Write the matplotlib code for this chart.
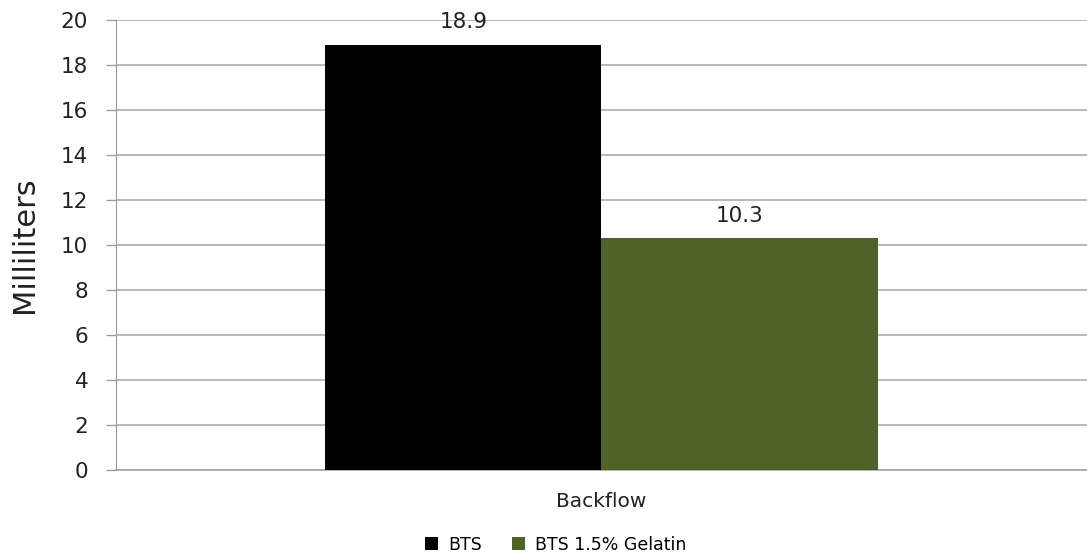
import matplotlib.pyplot as plt
from matplotlib.patches import Patch

categories = ["Backflow"]
series_names = ["BTS", "BTS 1.5% Gelatin"]
bts = [18.9]
bts_gelatin = [10.3]
colors = ["#000000", "#4F6228"]

plt.rcParams['font.family'] = ['DejaVu Sans']

fig = plt.figure(figsize=(10.87, 5.56), dpi=100)
ax = fig.add_axes([0.1067, 0.1547, 0.8933, 0.8093])

w = 0.2843
x = list(range(len(categories)))
b1 = ax.bar([i - w / 2 for i in x], bts, width=w, color=colors[0], zorder=3)
b2 = ax.bar([i + w / 2 for i in x], bts_gelatin, width=w, color=colors[1], zorder=3)

for bars, vals in [(b1, bts), (b2, bts_gelatin)]:
    for rect, v in zip(bars, vals):
        ax.annotate(f"{v}", (rect.get_x() + rect.get_width() / 2, v),
                    xytext=(0, 9), textcoords="offset points",
                    ha="center", va="bottom", fontsize=15.5, color="#222222")

ax.set_xlim(-0.5, 0.5)
ax.set_ylim(0, 20)
ax.set_yticks(range(0, 21, 2))
ax.yaxis.grid(True, color="#A6A6A6", linewidth=1.1, zorder=0)
ax.set_axisbelow(True)

ax.set_xticks(x)
ax.set_xticklabels(categories, fontsize=14.5, color="#222222")
ax.tick_params(axis="x", length=0, pad=16)
ax.tick_params(axis="y", labelsize=15.5, colors="#222222", length=7, width=1, color="#A0A0A0", pad=13)

for s in ["top", "right"]:
    ax.spines[s].set_visible(False)
ax.spines["left"].set_color("#9A9A9A")
ax.spines["bottom"].set_color("#A6A6A6")
ax.spines["bottom"].set_linewidth(1.2)

ax.set_ylabel("Milliliters", fontsize=22, color="#222222", labelpad=16)

handles = [Patch(facecolor=c, edgecolor="none") for c in colors]
fig.legend(handles, series_names, loc="center", bbox_to_anchor=(0.5115, 0.02),
           ncol=2, frameon=False, fontsize=12.5, handlelength=0.75, handleheight=0.75,
           handletextpad=0.6, columnspacing=1.7)

fig.savefig("out.png", dpi=100)
